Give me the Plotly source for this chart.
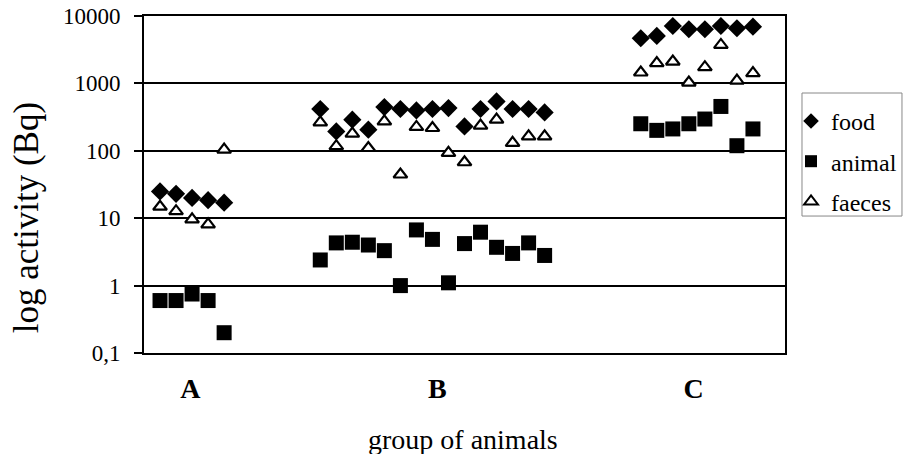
import plotly.graph_objects as go

# sample positions along the x axis (groups A, B, C with gaps between them)
x_A = [1, 2, 3, 4, 5]
x_B = list(range(11, 26))
x_C = list(range(31, 39))

# activity values (Bq)
food_A = [25, 23, 20, 18.5, 17]
food_B = [417, 194, 290, 206, 446, 417, 397, 417, 431, 230, 417, 540, 417, 417, 371]
food_C = [4680, 5060, 7110, 6360, 6360, 7110, 6580, 6950]

animal_A = [0.6, 0.6, 0.75, 0.6, 0.2]
animal_B = [2.4, 4.3, 4.4, 4.0, 3.3, 1.0, 6.7, 4.85, 1.1, 4.2, 6.2, 3.7, 3.0, 4.3, 2.8]
animal_C = [252, 201, 211, 252, 296, 455, 119, 211]

faeces_A = [14.8, 12.7, 9.6, 8.1, 104]
faeces_B = [264, 117, 180, 110, 273, 44.5, 226, 218, 93, 67.6, 236, 290, 131, 164, 164]
faeces_C = [1450, 2000, 2110, 1030, 1740, 3720, 1100, 1420]

group_labels = ["A", "B", "C"]
group_label_pos = [2.9, 18.3, 34.3]

y_tickvals = [0.1, 1, 10, 100, 1000, 10000]
y_ticktext = ["0,1", "1", "10", "100", "1000", "10000"]

FONT = '"Liberation Serif", "Times New Roman", serif'
xs = x_A + x_B + x_C

fig = go.Figure()
fig.add_trace(go.Scatter(
    x=xs, y=food_A + food_B + food_C, mode="markers", name="food",
    legendgroup="food",
    marker=dict(symbol="diamond", size=14, color="black", line=dict(width=0)),
))
fig.add_trace(go.Scatter(
    x=xs, y=animal_A + animal_B + animal_C, mode="markers", name="animal",
    legendgroup="animal",
    marker=dict(symbol="square", size=15, color="black", line=dict(width=0)),
))
fig.add_trace(go.Scatter(
    x=xs, y=faeces_A + faeces_B + faeces_C, mode="markers", name="faeces",
    legendgroup="faeces",
    marker=dict(symbol="triangle-up", size=12, color="white",
                line=dict(width=2.2, color="black")),
))

fig.update_layout(
    width=905, height=454,
    margin=dict(l=144, r=120, t=16, b=101, autoexpand=False),
    paper_bgcolor="white", plot_bgcolor="white",
    font=dict(family=FONT, color="black"),
    showlegend=True,
    legend=dict(
        x=1.0094, y=0.754, xanchor="left", yanchor="top",
        font=dict(family=FONT, size=24, color="black"),
        borderwidth=0, bgcolor="rgba(0,0,0,0)",
        traceorder="grouped", tracegroupgap=6,
        itemsizing="constant",
    ),
    # legend frame
    shapes=[dict(
        type="rect", xref="paper", yref="paper",
        x0=1.0265, x1=1.1825, y0=0.4064, y1=0.7715,
        line=dict(color="#888888", width=1), fillcolor="rgba(0,0,0,0)",
        layer="above",
    )],
)

fig.update_yaxes(
    type="log", range=[-1, 4], automargin=False,
    tickvals=y_tickvals, ticktext=y_ticktext,
    tickfont=dict(family=FONT, size=23, color="black"),
    ticks="outside", ticklen=8, tickwidth=2, tickcolor="black",
    ticklabelstandoff=9,
    showgrid=True, gridcolor="black", gridwidth=2,
    showline=True, linecolor="black", linewidth=2, mirror=True,
    zeroline=False,
)
fig.update_xaxes(
    range=[0, 40], automargin=False,
    tickvals=group_label_pos, ticktext=[f"<b>{t}</b>" for t in group_labels],
    tickfont=dict(family=FONT, size=28, color="black"),
    ticks="", ticklabelstandoff=9,
    showgrid=False, zeroline=False,
    showline=True, linecolor="black", linewidth=2, mirror=True,
)

# axis titles
fig.add_annotation(
    text="log activity (Bq)", xref="paper", yref="paper",
    x=-0.184, y=0.40, xanchor="center", yanchor="middle",
    textangle=-90, showarrow=False,
    font=dict(family=FONT, size=35, color="black"),
)
fig.add_annotation(
    text="group of animals", xref="paper", yref="paper",
    x=0.4977, y=-0.258, xanchor="center", yanchor="middle",
    showarrow=False,
    font=dict(family=FONT, size=28, color="black"),
)

fig.write_html("out.html")
